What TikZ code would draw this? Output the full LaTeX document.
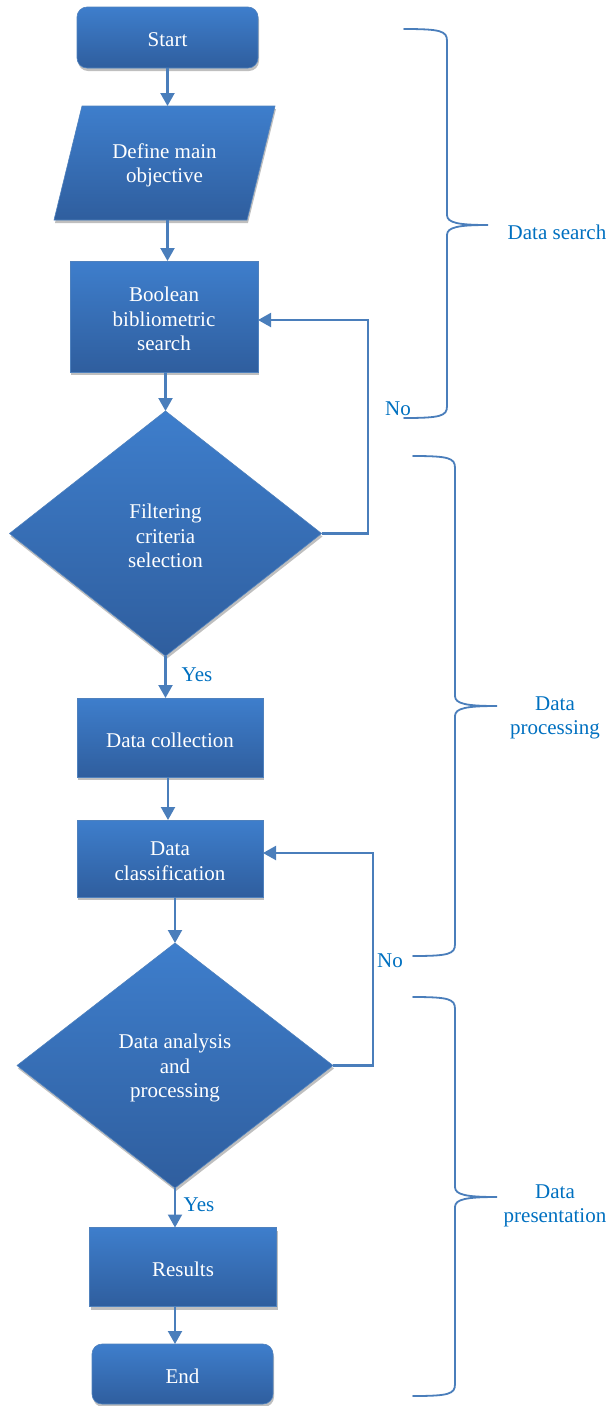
\documentclass[tikz,border=0pt]{standalone}
\usepackage{fontspec}
\setmainfont{Liberation Serif}
\usetikzlibrary{shapes.geometric,shadows,arrows.meta,calc}
\definecolor{topblue}{RGB}{62,126,204}
\definecolor{botblue}{RGB}{47,94,158}
\definecolor{edgeblue}{RGB}{79,129,189}
\definecolor{lineblue}{RGB}{74,126,187}
\definecolor{lblblue}{RGB}{0,112,192}
\tikzset{
  shapefill/.style={draw=edgeblue, line width=0.6pt, top color=topblue, bottom color=botblue,
    drop shadow={shadow xshift=1pt, shadow yshift=-3pt, opacity=0.25, fill=black}},
  txtfont/.style={font=\fontsize{21}{24.5}\selectfont},
  boxnode/.style={shapefill, rectangle, inner sep=0pt, outer sep=0pt},
  dianode/.style={shapefill, diamond, inner sep=0pt, outer sep=0pt},
  textonly/.style={rectangle, text=white, txtfont, align=center, inner sep=0pt, outer sep=0pt},
  intext/.style={label={[textonly, yshift=-2.5pt]center:#1}},
  lbl/.style={text=lblblue, txtfont, align=center, inner sep=0pt},
  arr/.style={draw=lineblue, line width=2.1pt, -{Triangle[width=14pt,length=13pt]}},
  bracestyle/.style={draw=lineblue, line width=1.8pt, line cap=round}
}
\newcommand{\mybrace}[6]{% xl, xv, xtip, ytop, ymid, ybot
  \draw[bracestyle] (#1,#4) .. controls (#2-6,#4) and (#2,#4+2) .. (#2,#4+12)
    -- (#2,#5-10) .. controls (#2,#5-2) and (#2+12,#5) .. (#3,#5)
    .. controls (#2+12,#5) and (#2,#5+2) .. (#2,#5+10)
    -- (#2,#6-12) .. controls (#2,#6-2) and (#2-6,#6) .. (#1,#6);}
\begin{document}
\begin{tikzpicture}[x=1pt,y=-1pt]
\useasboundingbox (0,0) rectangle (608,1406);

% shapes
\node[boxnode, rounded corners=10pt, minimum width=181pt, minimum height=61pt, intext={Start}] (start) at (167.5,37.5) {};
\path[shapefill] (82,106) -- (275,106) -- (247,220) -- (54,220) -- cycle;
\node[rectangle, inner sep=0pt, outer sep=0pt, minimum width=190pt, minimum height=114pt, intext={Define main\\objective}] (def) at (164.5,163) {};
\node[boxnode, minimum width=188pt, minimum height=111pt, intext={Boolean\\bibliometric\\search}] (bool) at (164,316.5) {};
\node[dianode, minimum width=312pt, minimum height=245pt, intext={Filtering\\criteria\\selection}] (dia1) at (165.5,533.5) {};
\node[boxnode, minimum width=186pt, minimum height=79pt, intext={Data collection}] (coll) at (170,737.5) {};
\node[boxnode, minimum width=186pt, minimum height=77pt, intext={Data\\classification}] (class) at (170,858.5) {};
\node[dianode, minimum width=316pt, minimum height=245pt, intext={Data analysis\\and\\processing}] (dia2) at (175,1065.5) {};
\node[boxnode, minimum width=187pt, minimum height=79pt, intext={Results}] (res) at (183,1267) {};
\node[boxnode, rounded corners=10pt, minimum width=181pt, minimum height=60pt, intext={End}] (end) at (182.5,1374) {};

% connectors
\draw[arr] (start.south) -- (start.south |- def.north);
\draw[arr] (def.south -| start.south) -- (bool.north -| start.south);
\draw[arr] (bool.south -| dia1.north) -- (dia1.north);
\draw[arr] (dia1.south) -- (dia1.south |- coll.north);
\draw[arr] ($(coll.south)+(-2,0)$) -- ($(class.north)+(-2,0)$);
\draw[arr] (class.south -| dia2.north) -- (dia2.north);
\draw[arr] (dia2.south) -- (dia2.south |- res.north);
\draw[arr] (res.south -| dia2.south) -- (end.north -| dia2.south);

\coordinate (fb1) at (368,320);
\draw[arr] (dia1.east) -| (fb1) -- (fb1 -| bool.east);
\coordinate (fb2) at (373,853);
\draw[arr] (dia2.east) -| (fb2) -- (fb2 -| class.east);

% labels
\node[lbl] (no1) at (398,409) {No};
\node[lbl] (no2) at (390,961) {No};
\node[lbl] (yes1) at (197,675) {Yes};
\node[lbl] (yes2) at (199,1205) {Yes};

% braces
\mybrace{404}{447}{488}{29}{225}{418}
\mybrace{413}{455}{497}{456}{706}{956}
\mybrace{413}{455}{497}{997}{1197}{1396}
\node[lbl] (search) at (557,232) {Data search};
\node[lbl] (proc) at (555,718) {Data\\processing};
\node[lbl] (pres) at (555,1206) {Data\\presentation};
\end{tikzpicture}
\end{document}
